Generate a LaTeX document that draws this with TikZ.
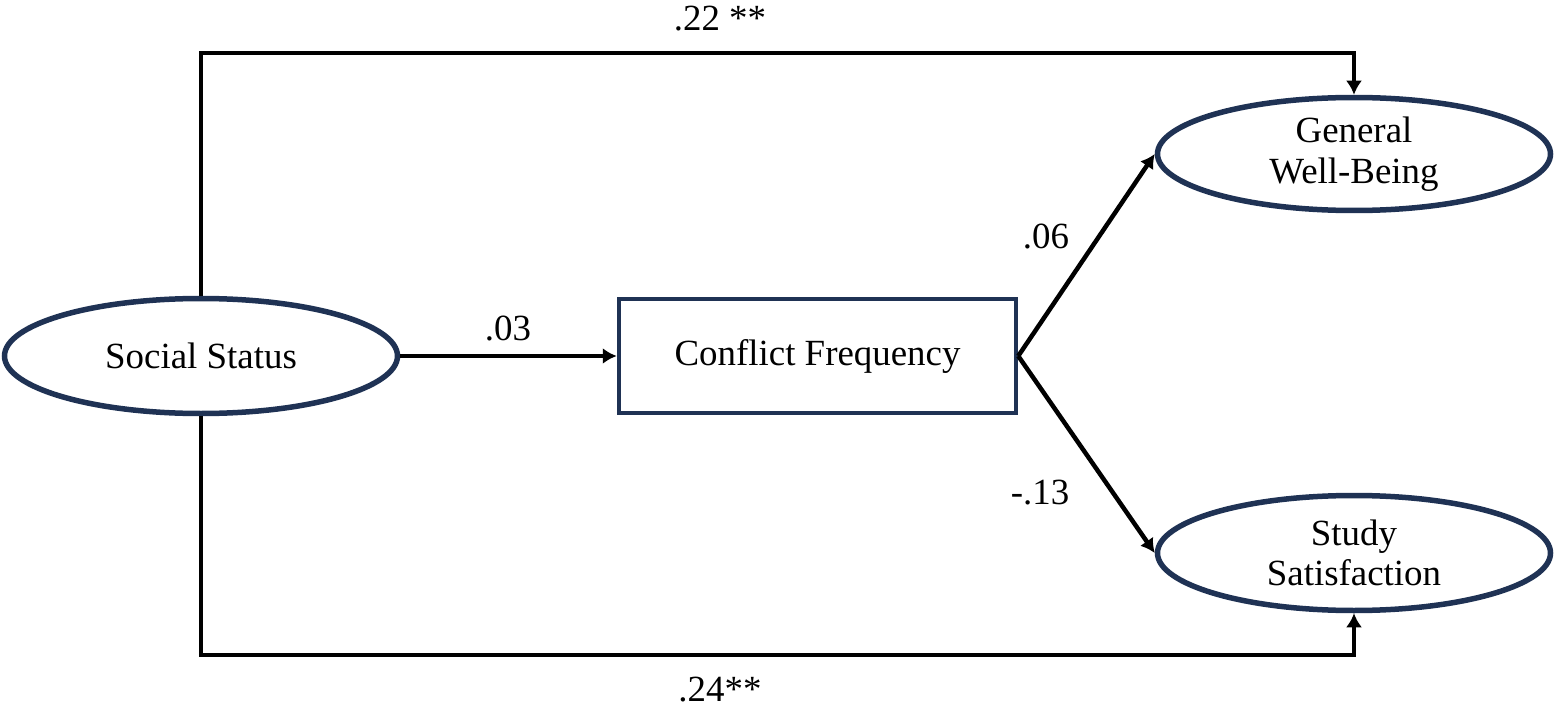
\documentclass[tikz,border=0pt]{standalone}
\usepackage{fontspec}
\setmainfont{Liberation Serif}
\usetikzlibrary{shapes.geometric,arrows.meta}
\definecolor{navy}{RGB}{31,50,84}

\begin{document}
\begin{tikzpicture}[
    latentvar/.style={ellipse, draw=navy, line width=0.11cm, inner sep=0pt,
      minimum width=7.86cm, minimum height=2.3cm, align=center,
      font=\fontsize{21}{23}\selectfont},
    obsvar/.style={rectangle, draw=navy, line width=0.09cm, inner sep=0pt,
      minimum width=7.94cm, minimum height=2.28cm,
      font=\fontsize{21}{23}\selectfont},
    link/.style={-{Latex[length=0.28cm,width=0.32cm]}, line width=0.09cm},
    coef/.style={font=\fontsize{21}{23}\selectfont}
  ]
  \useasboundingbox (0,0) rectangle (31.16,14.16);
  % variables
  \node[latentvar] (soc) at (4.02,7.04) {Social Status};
  \node[obsvar] (conf) at (16.35,7.04) {Conflict Frequency};
  \node[latentvar, minimum height=2.26cm] (gwb) at (27.08,11.08) {General\\Well-Being};
  \node[latentvar] (sat) at (27.08,3.1) {Study\\Satisfaction};
  % corners of the direct paths
  \coordinate (topright) at (27.08,13.1);
  \coordinate (botright) at (27.08,1.06);
  % paths
  \draw[link] (soc.east) -- (conf.west);
  \draw[link] (conf.east) -- (gwb.west);
  \draw[link] (conf.east) -- (sat.west);
  \draw[link] (soc.north) |- (topright) -- (gwb.north);
  \draw[link] (soc.south) |- (botright) -- (sat.south);
  % coefficients
  \node[coef] (c1) at (10.16,7.6) {.03};
  \node[coef] (c2) at (20.92,9.44) {.06};
  \node[coef] (c3) at (20.8,4.3) {-.13};
  \node[coef] (c4) at (14.4,13.78) {.22 **};
  \node[coef] (c5) at (14.4,0.36) {.24**};
\end{tikzpicture}
\end{document}
